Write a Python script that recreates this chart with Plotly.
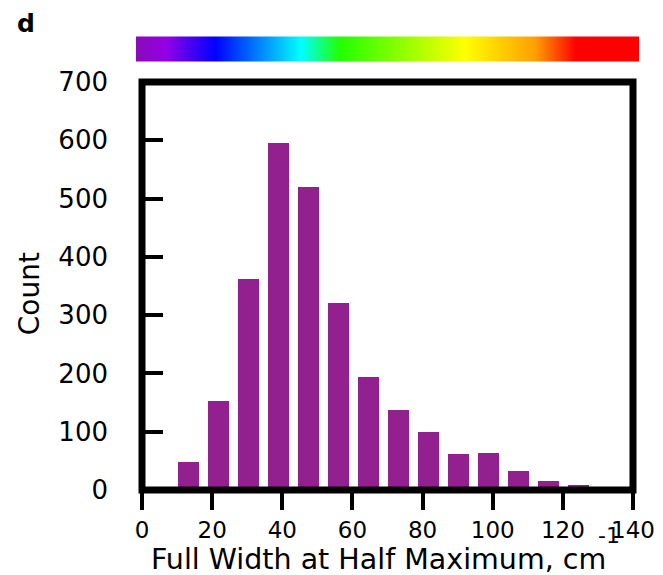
import plotly.graph_objects as go

# ---- data ----
bin_centers = [4.7, 13.3, 21.8, 30.4, 38.9, 47.5, 56.0, 64.6, 73.1, 81.7, 90.2, 98.8, 107.3, 115.8, 124.4]
counts = [3, 48, 152, 362, 596, 520, 321, 194, 138, 100, 62, 63, 33, 16, 9]
x_ticks = [0, 20, 40, 60, 80, 100, 120, 140]
y_ticks = [0, 100, 200, 300, 400, 500, 600, 700]
bar_width = 6.0

spectrum = [
    [0.0, "#8a0ab8"],
    [0.06, "#9300e6"],
    [0.157, "#0000ff"],
    [0.328, "#00ffff"],
    [0.406, "#22ff00"],
    [0.654, "#ffff00"],
    [0.793, "#ffa000"],
    [0.875, "#ff0000"],
    [1.0, "#ff0000"],
]

FONT = "DejaVu Sans"
BAR_COLOR = "#93208f"

fig = go.Figure()
fig.add_trace(go.Bar(
    x=bin_centers, y=counts, width=bar_width,
    marker=dict(color=BAR_COLOR, line=dict(width=0)),
    showlegend=False, hoverinfo="x+y",
))
# dummy trace that only provides the spectrum colour bar on top
fig.add_trace(go.Scatter(
    x=[None], y=[None], mode="markers", showlegend=False, hoverinfo="skip",
    marker=dict(
        color=[0], cmin=0, cmax=1, colorscale=spectrum, showscale=True,
        colorbar=dict(
            orientation="h", x=0.5, xanchor="center", y=1.081, yanchor="middle",
            yref="paper", lenmode="pixels", len=503, thicknessmode="pixels",
            thickness=25, outlinewidth=0, showticklabels=False, ticks="",
            xpad=0, ypad=0,
        ),
    ),
))

fig.update_layout(
    width=655, height=567,
    margin=dict(l=134, r=30, t=74, b=85, pad=0, autoexpand=False),
    paper_bgcolor="white", plot_bgcolor="white",
    font=dict(family=FONT, color="black"),
    bargap=0,
    shapes=[dict(type="rect", xref="paper", yref="paper", x0=0, x1=1, y0=0, y1=1,
                 line=dict(color="black", width=7), layer="above")],
    annotations=[
        dict(text="<b>d</b>", xref="paper", yref="paper", x=-0.2566, y=1.1816,
             xanchor="left", yanchor="top", showarrow=False, borderpad=0,
             font=dict(family=FONT, size=25, color="black")),
        dict(text="Count", xref="paper", yref="paper", x=-0.230, y=0.48,
             xanchor="center", yanchor="middle", textangle=-90, showarrow=False,
             font=dict(family=FONT, size=28, color="black")),
        dict(text="Full Width at Half Maximum, cm", xref="paper", yref="paper",
             x=0.4815, y=-0.1706, xanchor="center", yanchor="middle", showarrow=False,
             font=dict(family=FONT, size=28.5, color="black")),
        dict(text="-1", xref="paper", yref="paper", x=0.951, y=-0.112,
             xanchor="center", yanchor="middle", showarrow=False,
             font=dict(family=FONT, size=22, color="black")),
    ],
)
fig.update_xaxes(
    range=[0, 140], tickvals=x_ticks, ticktext=[str(v) for v in x_ticks],
    ticks="outside", ticklen=19, tickwidth=3.5, tickcolor="black",
    showgrid=False, zeroline=False, showline=False, automargin=False,
    tickfont=dict(family=FONT, size=23), ticklabelstandoff=0,
)
fig.update_yaxes(
    range=[0, 700], tickvals=y_ticks, ticktext=[str(v) for v in y_ticks],
    ticks="inside", ticklen=21, tickwidth=3.5, tickcolor="black",
    showgrid=False, zeroline=False, showline=False, automargin=False,
    tickfont=dict(family=FONT, size=26), ticklabelstandoff=33,
)

fig.write_html("out.html")
